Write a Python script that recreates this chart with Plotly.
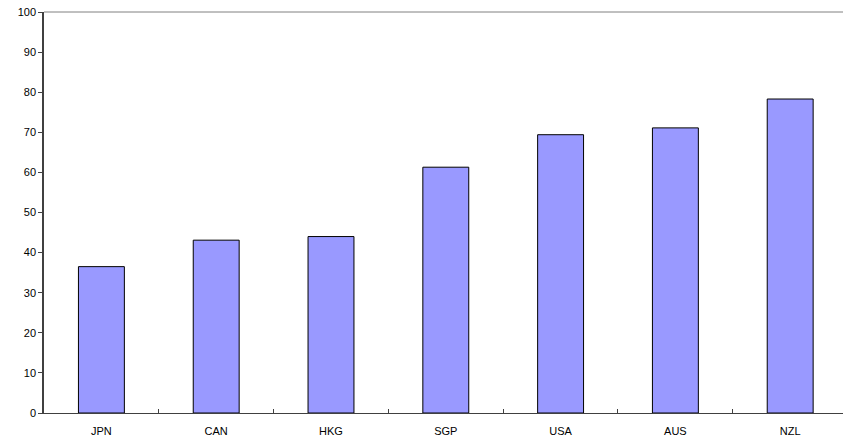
import plotly.graph_objects as go

countries = ["JPN", "CAN", "HKG", "SGP", "USA", "AUS", "NZL"]
values = [36.5, 43.1, 44.0, 61.3, 69.4, 71.1, 78.3]
y_ticks = list(range(0, 101, 10))

fig = go.Figure(
    go.Bar(
        x=countries,
        y=values,
        width=0.4,
        marker=dict(color="#9999FF", line=dict(color="#000000", width=1)),
        hoverinfo="x+y",
    )
)

axis_font = dict(family="Liberation Sans, Arial, sans-serif", size=11, color="#000000")

fig.update_layout(
    width=843,
    height=440,
    margin=dict(l=44, r=0, t=12, b=27),
    plot_bgcolor="#FFFFFF",
    paper_bgcolor="#FFFFFF",
    showlegend=False,
    bargap=0.6,
    xaxis=dict(
        type="category",
        range=[-0.5, 6.46],
        showgrid=False,
        showline=True,
        linecolor="#404040",
        linewidth=1,
        ticks="inside",
        tickson="boundaries",
        ticklen=4,
        tickcolor="#404040",
        tickfont=axis_font,
        ticklabelstandoff=8,
        zeroline=False,
    ),
    yaxis=dict(
        range=[0, 100],
        tickvals=y_ticks,
        showgrid=False,
        showline=True,
        linecolor="#404040",
        linewidth=1.5,
        ticks="outside",
        ticklen=4,
        tickcolor="#404040",
        tickfont=axis_font,
        zeroline=False,
    ),
    shapes=[
        dict(
            type="line",
            xref="paper",
            yref="paper",
            x0=0,
            x1=1,
            y0=1,
            y1=1,
            line=dict(color="#808080", width=1),
        )
    ],
)

fig.write_html("out.html")
